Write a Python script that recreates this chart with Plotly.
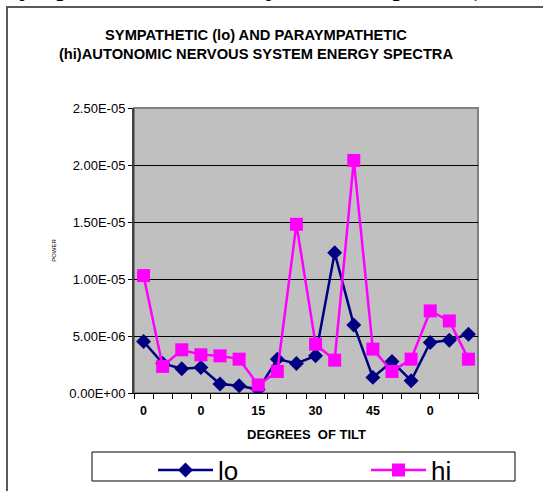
import plotly.graph_objects as go

# ---- data ----
tilt_labels = ["0", "", "", "0", "", "", "15", "", "", "30", "", "", "45", "", "", "0", "", ""]
lo_power = [4.52e-6, 2.6e-6, 2.13e-6, 2.24e-6, 0.79e-6, 0.64e-6, 0.3e-6, 2.97e-6, 2.59e-6,
            3.26e-6, 12.3e-6, 5.97e-6, 1.37e-6, 2.77e-6, 1.08e-6, 4.43e-6, 4.63e-6, 5.16e-6]
hi_power = [10.3e-6, 2.33e-6, 3.79e-6, 3.35e-6, 3.26e-6, 2.97e-6, 0.70e-6, 1.89e-6, 14.8e-6,
            4.28e-6, 2.88e-6, 20.4e-6, 3.85e-6, 1.89e-6, 2.97e-6, 7.2e-6, 6.32e-6, 2.97e-6]
y_tick_values = [0, 5e-6, 1e-5, 1.5e-5, 2e-5, 2.5e-5]
y_tick_labels = ["0.00E+00", "5.00E-06", "1.00E-05", "1.50E-05", "2.00E-05", "2.50E-05"]

W, H = 543, 491
L, R, T, B = 134, 478, 108, 393  # plot area in px


def px(x):
    return (x - L) / (R - L)


def py(y):
    return (B - y) / (B - T)


x_idx = list(range(len(tilt_labels)))
label_pos = [i for i, t in enumerate(tilt_labels) if t]
label_txt = [tilt_labels[i] for i in label_pos]

fig = go.Figure()
fig.add_trace(go.Scatter(
    x=x_idx, y=lo_power, name="lo", mode="lines+markers",
    line=dict(color="#000080", width=2.5),
    marker=dict(symbol="diamond", size=11.5, color="#000080"),
    legend="legend",
))
fig.add_trace(go.Scatter(
    x=x_idx, y=hi_power, name="hi", mode="lines+markers",
    line=dict(color="#FF00FF", width=2.5),
    marker=dict(symbol="square", size=13, color="#FF00FF"),
    legend="legend2",
))

font_family = "Liberation Sans, Arial, sans-serif"
legend_common = dict(
    orientation="h",
    xref="container", yref="container",
    xanchor="left", y=1 - 470 / H, yanchor="middle",
    bgcolor="rgba(0,0,0,0)", borderwidth=0,
    font=dict(size=26, family=font_family),
    itemwidth=55,
)

fig.update_layout(
    width=W, height=H,
    margin=dict(l=L, r=W - R, t=T, b=H - B, pad=0, autoexpand=False),
    paper_bgcolor="white",
    plot_bgcolor="#C0C0C0",
    font=dict(family=font_family, color="black"),
    title=dict(
        text="SYMPATHETIC (lo) AND PARAYMPATHETIC<br>(hi)AUTONOMIC NERVOUS SYSTEM ENERGY SPECTRA",
        x=256 / W, xanchor="center", xref="container",
        y=1 - 39.5 / H, yanchor="middle", yref="container",
        font=dict(size=14.7, weight="bold", family=font_family),
    ),
    showlegend=True,
    legend=dict(x=153 / W, **legend_common),
    legend2=dict(x=366 / W, **legend_common),
    xaxis=dict(
        range=[-0.5, len(tilt_labels) - 0.5],
        tickvals=label_pos, ticktext=label_txt,
        ticks="outside", ticklen=6, tickcolor="rgba(0,0,0,0)",
        tickfont=dict(size=12.5, weight="bold"),
        showgrid=False, zeroline=False,
        showline=True, linecolor="black", linewidth=1,
        minor=dict(tickvals=[i - 0.5 for i in range(len(tilt_labels) + 1)],
                   ticks="outside", ticklen=5, tickcolor="black", tickwidth=1, showgrid=False),
        automargin=False,
        fixedrange=True,
    ),
    yaxis=dict(
        range=[0, 2.5e-5],
        tickvals=y_tick_values, ticktext=y_tick_labels,
        ticks="outside", ticklen=4, tickcolor="black",
        tickfont=dict(size=13),
        showgrid=True, gridcolor="black", gridwidth=1,
        zeroline=False,
        showline=True, linecolor="#404040", linewidth=2,
        title=dict(text="POWER", font=dict(size=6), standoff=12),
        automargin=False,
        fixedrange=True,
    ),
    shapes=[
        # plot-area frame (top / right grey border)
        dict(type="rect", xref="paper", yref="paper", x0=0, x1=1, y0=0, y1=1,
             line=dict(color="#808080", width=2), layer="below"),
        # outer chart frame
        dict(type="rect", xref="paper", yref="paper", x0=px(7), x1=px(600), y0=py(600), y1=py(7),
             line=dict(color="#595959", width=2)),
        # legend box
        dict(type="rect", xref="paper", yref="paper", x0=px(92), x1=px(515), y0=py(481), y1=py(452),
             line=dict(color="black", width=1)),
    ],
    annotations=[
        # x-axis title
        dict(text="<b>DEGREES  OF TILT</b>", xref="paper", yref="paper",
             x=0.5, y=py(434), xanchor="center", yanchor="middle",
             showarrow=False, font=dict(size=13, family=font_family)),
        # line of document text above the chart (mostly cut off)
        dict(text="sympathetic nervous system's response (the normal",
             xref="paper", yref="paper", x=px(6), y=py(4), xanchor="left", yanchor="bottom",
             showarrow=False, font=dict(family="Liberation Serif, Times New Roman, serif", size=29)),
    ],
)

fig.write_html("out.html")
